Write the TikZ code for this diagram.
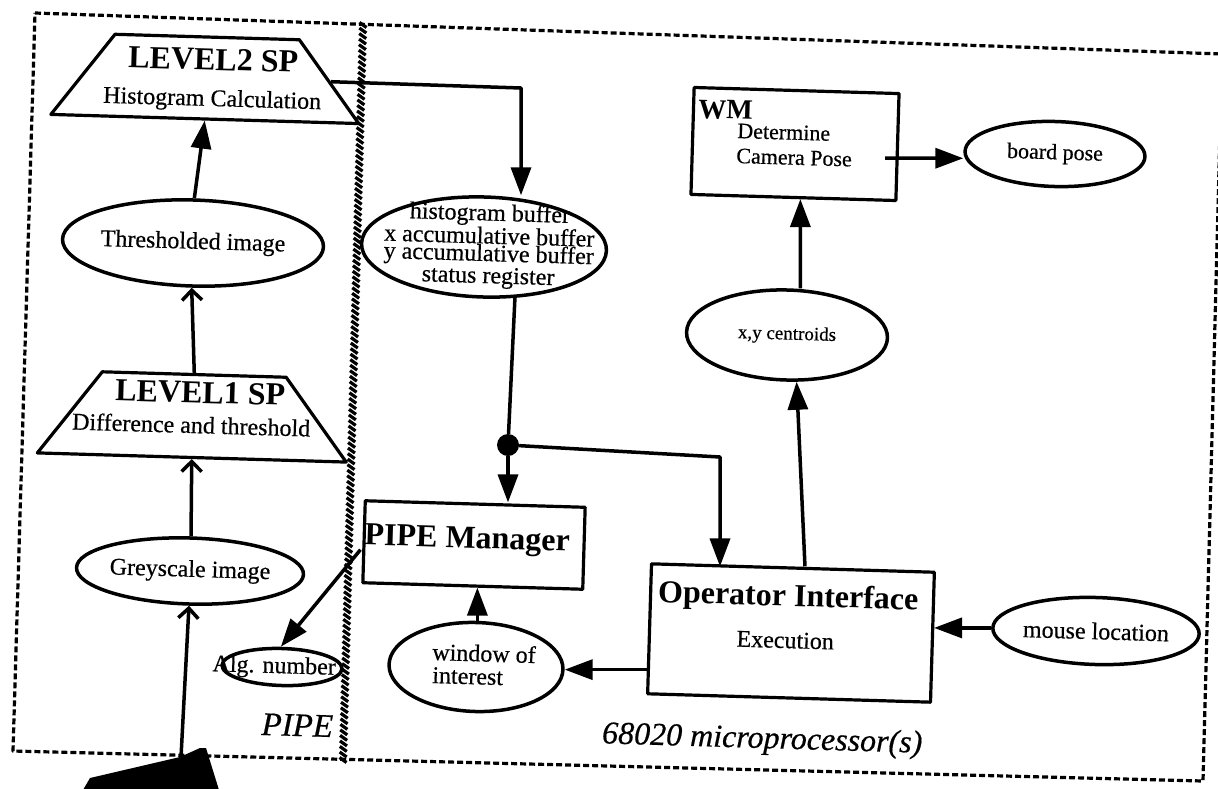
\documentclass[tikz,border=0pt]{standalone}
\usepackage{fontspec}
\setmainfont{Liberation Serif}[UprightFeatures={FakeBold=0.5},ItalicFeatures={FakeBold=0.5}]
\usetikzlibrary{shapes.geometric,arrows.meta,calc}
\newcommand\fsN{\fontsize{24}{24}\selectfont}
\newcommand\fsB{\fontsize{32}{32}\selectfont\bfseries}
\newcommand\fsS{\fontsize{22}{22}\selectfont}
\newcommand\fsI{\fontsize{32}{32}\selectfont\itshape}
\begin{document}
\begin{tikzpicture}[x=1pt,y=-1pt,line join=round,
  ell/.style={ellipse,draw,line width=3.5pt,inner sep=0pt,rotate=-1.7,font=\fsN},
  bx/.style={rectangle,draw,line width=3.2pt,inner sep=0pt,rotate=-1.7},
  trap/.style={trapezium,draw,line width=3.2pt,inner sep=0pt,rotate=-1.7,
    trapezium left angle=53,trapezium right angle=53,trapezium stretches body},
  txt/.style={inner sep=0pt,rotate=-1.7},
  fa/.style={line width=3.5pt,-{Triangle[length=28pt,width=20pt]}},
  oa/.style={line width=3.5pt,-{Straight Barb[length=10pt,width=20pt]}},
  border/.style={line width=3.2pt,dash pattern=on 6pt off 3pt},
  hatch/.style={line width=3.2pt}]
\useasboundingbox (0,0) rectangle (1218,788);
\clip (0,0) rectangle (1218,788);
\fill[white] (0,0) rectangle (1218,788);
% frames
\draw[border] (35,13) -- (1222,54) -- (1203,781) -- (13,751) -- cycle;
\coordinate (dA) at (363,25);
\coordinate (dB) at (343,760);
\foreach \i in {0,...,133} {
  \draw[hatch] ($(dA)!\i/133!(dB)$) +(-3.5,-2.5) -- +(3.5,2.5);
}
% PIPE side
\node[trap,minimum width=308pt] (lvl2) at (206,78) {\rule{0pt}{82pt}};
\node[txt,font=\fsB,anchor=base] (l2t) at (213,70) {LEVEL2 SP};
\node[txt,font=\fsN,anchor=base] (l2s) at (212,106) {Histogram Calculation};
\node[ell,minimum width=223pt,minimum height=86pt] (thr) at (193,243) {Thresholded image};
\node[trap,minimum width=309pt] (lvl1) at (193,416) {\rule{0pt}{83pt}};
\node[txt,font=\fsB,anchor=base] (l1t) at (200,403) {LEVEL1 SP};
\node[txt,font=\fsN,anchor=base] (l1s) at (191,433) {Difference and threshold};
\node[ell,minimum width=224pt,minimum height=66pt] (grey) at (190,571) {Greyscale image};
\node[ell,minimum width=120pt,minimum height=37pt] (alg) at (282,667) {};
\node[txt,font=\fsN,anchor=base] (algt) at (274,673) {Alg. number};
\node[txt,font=\fontsize{33}{33}\selectfont\itshape,anchor=base] (pipe) at (297,736) {PIPE};
\fill (83,790) -- (90,778) -- (180,757) -- (200,748) -- (206,748) -- (219,790) -- cycle;
\coordinate (cam) at (181,757);
% 68020 side
\node[ell,minimum width=245pt,minimum height=100pt] (hist) at (484,247) {};
\node[txt,font=\fontsize{24}{17.5}\selectfont,align=center] (histt) at (489,246)
  {histogram buffer\\x accumulative buffer\\y accumulative buffer\\status register};
\node[circle,fill,inner sep=0pt,minimum size=22pt] (dot) at (508,445) {};
\node[bx,minimum width=220pt,minimum height=82pt] (pm) at (474,545) {};
\node[txt,font=\fsB,anchor=base] (pmt) at (467,548) {PIPE Manager};
\node[ell,minimum width=174pt,minimum height=89pt] (wi) at (476,667) {};
\node[txt,font=\fsN,anchor=base west] (wi1) at (432,660) {window of};
\node[txt,font=\fsN,anchor=base west] (wi2) at (432,683) {interest};
\node[bx,minimum width=283pt,minimum height=130pt] (oi) at (791,633) {};
\node[txt,font=\fsB,anchor=base] (oit) at (788,606) {Operator Interface};
\node[txt,font=\fsN,anchor=base] (oie) at (785,648) {Execution};
\node[ell,minimum width=198pt,minimum height=67pt] (ml) at (1096,631) {mouse location};
\node[ell,minimum width=201pt,minimum height=90pt,font=\fontsize{19}{19}\selectfont] (cen) at (787,335) {x,y centroids};
\node[bx,minimum width=205pt,minimum height=107pt] (wm) at (795,144) {};
\node[txt,font=\fontsize{28}{28}\selectfont\bfseries,anchor=base west] (wmt) at (698,118) {WM};
\node[txt,font=\fsS,anchor=base west] (wm1) at (737,138) {Determine};
\node[txt,font=\fsS,anchor=base west] (wm2) at (736,163) {Camera Pose};
\node[ell,minimum width=180pt,minimum height=65pt,font=\fsS] (bp) at (1055,154) {board pose};
\node[txt,font=\fsI,anchor=base] (mp) at (762,748) {68020 microprocessor(s)};
% connectors
\draw[fa] (thr.north) -- (lvl2.south);
\draw[oa] (lvl1.north) -- (thr.south);
\draw[oa] (grey.north) -- (lvl1.south);
\draw[oa] (cam) -- (grey.south);
\coordinate (h1) at (521,88);
\draw[fa] (lvl2.east) -- (h1) -- (h1 |- hist.north);
\draw[line width=3.5pt] (hist.-57) -- (dot);
\draw[fa] (dot) -- (dot |- pm.north);
\coordinate (c2) at (720,457);
\draw[fa] (dot) -- (c2) -- (c2 |- oi.north);
\draw[fa] (wi.north) -- (wi.north |- pm.south);
\draw[fa] (wi.east -| oi.west) -- (wi.east);
\draw[fa] (ml.west) -- (ml.west -| oi.east);
\draw[fa] ($(oi.north)+(12,0)$) -- ($(cen.south)+(11,0)$);
\draw[fa] ($(cen.north)+(12,0)$) -- ($(wm.south)+(7,0)$);
\draw[fa] ($(wm.east)+(-14,11)$) -- ($(bp.west)+(0,7)$);
\coordinate (pmw) at ($(pm.west)+(-2,8)$);
\draw[fa] (pmw) -- (alg.95);
\end{tikzpicture}
\end{document}
